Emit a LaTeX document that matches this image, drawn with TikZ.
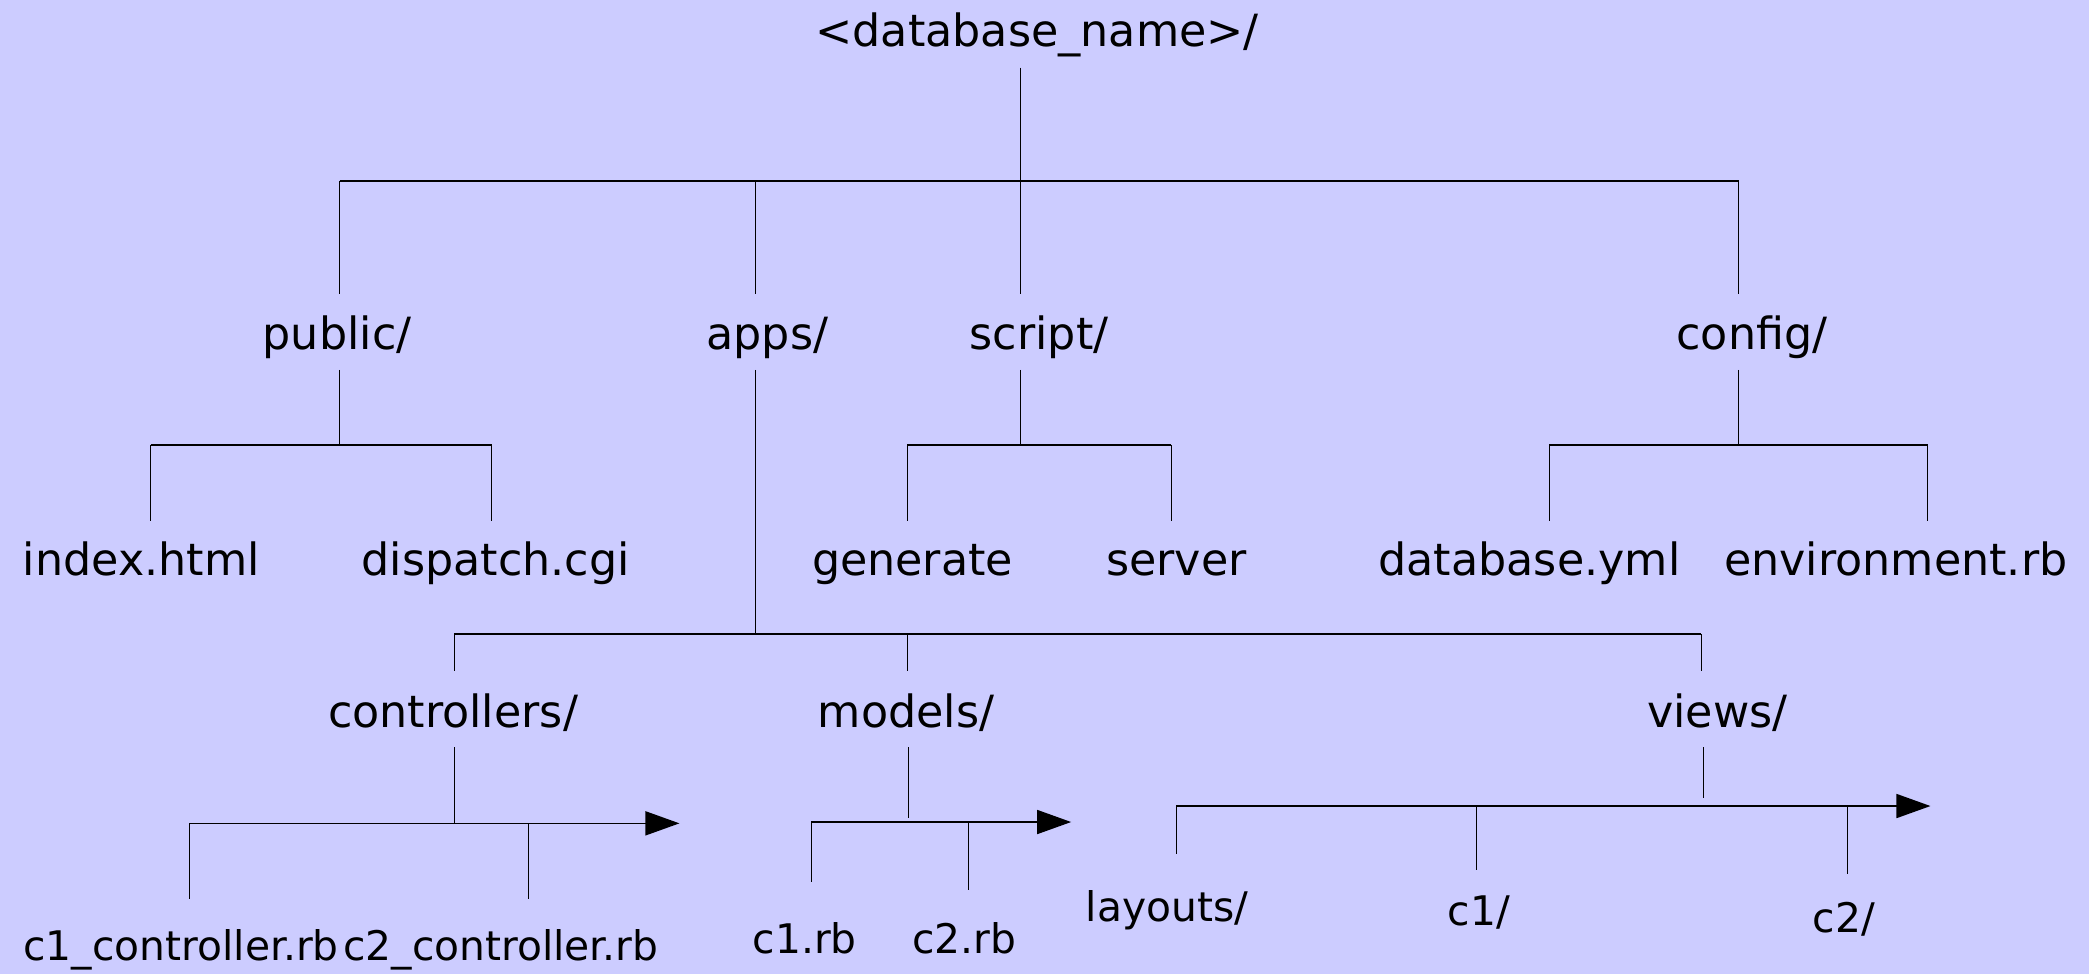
\documentclass[tikz,border=0pt]{standalone}
\usepackage{fontspec}
\setmainfont{DejaVu Sans}
\usetikzlibrary{arrows.meta}
\definecolor{bg}{HTML}{CCCCFF}
\begin{document}
\begin{tikzpicture}[x=0.6662pt,y=-0.6662pt,
  lbl/.style={inner sep=0pt, anchor=base, font=\fontsize{22.2pt}{26pt}\selectfont},
  sml/.style={inner sep=0pt, anchor=base, font=\fontsize{20.4pt}{24pt}\selectfont},
  stem/.style={line width=0.5pt},
  bus/.style={line width=0.8pt},
  arrbus/.style={line width=0.8pt, -{Triangle[length=17pt,width=12pt]}}]
\fill[bg] (0,0) rectangle (1568,731.1);
\useasboundingbox (0,0) rectangle (1568,731.1);

% ---------- labels ----------
\node[lbl] (root) at (778.5,35) {<database\_name>/};
\node[lbl] (public) at (253,262) {public/};
\node[lbl] (apps) at (576,262) {apps/};
\node[lbl] (script) at (780,262) {script/};
\node[lbl] (config) at (1315,262) {config/};
\node[lbl] (index) at (106,432) {index.html};
\node[lbl] (dispatch) at (372,432) {dispatch.cgi};
\node[lbl] (generate) at (685,432) {generate};
\node[lbl] (server) at (883,432) {server};
\node[lbl] (dbyml) at (1148,432) {database.yml};
\node[lbl] (envrb) at (1423,432) {environment.rb};
\node[lbl] (controllers) at (340,546) {controllers/};
\node[lbl] (models) at (680,546) {models/};
\node[lbl] (views) at (1289,546) {views/};
\node[sml] (c1ctl) at (136,721) {c1\_controller.rb};
\node[sml] (c2ctl) at (376,721) {c2\_controller.rb};
\node[sml] (c1rb) at (604,716) {c1.rb};
\node[sml] (c2rb) at (724,716) {c2.rb};
\node[sml] (layouts) at (876,692) {layouts/};
\node[sml] (c1v) at (1110,694.5) {c1/};
\node[sml] (c2v) at (1384,700) {c2/};

% ---------- connector end points ----------
\coordinate (rootS) at (766,50.8);
\coordinate (rootJ) at (766,136);
\coordinate (busL) at (255,136);
\coordinate (busR) at (1305,136);
\coordinate (publicN) at (255,220.7);
\coordinate (appsN) at (567,220.7);
\coordinate (scriptN) at (766,220.7);
\coordinate (configN) at (1305,220.7);

\coordinate (publicS) at (255,277.7);
\coordinate (publicJ) at (255,334);
\coordinate (indexJ) at (113,334);
\coordinate (dispatchJ) at (369,334);
\coordinate (indexN) at (113,390.8);
\coordinate (dispatchN) at (369,390.8);

\coordinate (scriptS) at (766,277.7);
\coordinate (scriptJ) at (766,334);
\coordinate (generateJ) at (681,334);
\coordinate (serverJ) at (879,334);
\coordinate (generateN) at (681,390.8);
\coordinate (serverN) at (879,390.8);

\coordinate (configS) at (1305,277.7);
\coordinate (configJ) at (1305,334);
\coordinate (dbymlJ) at (1163,334);
\coordinate (envrbJ) at (1447,334);
\coordinate (dbymlN) at (1163,390.8);
\coordinate (envrbN) at (1447,390.8);

\coordinate (appsS) at (567,277.7);
\coordinate (appsJ) at (567,476);
\coordinate (controllersJ) at (341,476);
\coordinate (modelsJ) at (681,476);
\coordinate (viewsJ) at (1277,476);
\coordinate (controllersN) at (341,504);
\coordinate (modelsN) at (681,504);
\coordinate (viewsN) at (1277,504);

\coordinate (controllersS) at (341,561);
\coordinate (controllersJ2) at (341,618);
\coordinate (c1ctlJ) at (142,618);
\coordinate (c2ctlJ) at (397,618);
\coordinate (ctlTip) at (510,618);
\coordinate (c1ctlN) at (142,675);
\coordinate (c2ctlN) at (397,675);

\coordinate (modelsS) at (682,561);
\coordinate (modelsE) at (682,614);
\coordinate (c1rbJ) at (609,617);
\coordinate (c2rbJ) at (727,617);
\coordinate (modTip) at (804,617);
\coordinate (c1rbN) at (609,662);
\coordinate (c2rbN) at (727,668);

\coordinate (viewsS) at (1279,561);
\coordinate (viewsE) at (1279,599);
\coordinate (layoutsJ) at (883,605);
\coordinate (c1vJ) at (1108,605);
\coordinate (c2vJ) at (1387,605);
\coordinate (viewTip) at (1449,605);
\coordinate (layoutsN) at (883,641);
\coordinate (c1vN) at (1108,653);
\coordinate (c2vN) at (1387,656);

% ---------- connectors ----------
\draw[stem] (rootS) -- (rootJ);
\draw[bus] (busL) -- (busR);
\draw[stem] (busL) -- (publicN);
\draw[stem] (appsN |- rootJ) -- (appsN);
\draw[stem] (rootJ) -- (scriptN);
\draw[stem] (busR) -- (configN);

\draw[stem] (publicS) -- (publicJ);
\draw[bus] (indexJ) -- (dispatchJ);
\draw[stem] (indexJ) -- (indexN);
\draw[stem] (dispatchJ) -- (dispatchN);

\draw[stem] (scriptS) -- (scriptJ);
\draw[bus] (generateJ) -- (serverJ);
\draw[stem] (generateJ) -- (generateN);
\draw[stem] (serverJ) -- (serverN);

\draw[stem] (configS) -- (configJ);
\draw[bus] (dbymlJ) -- (envrbJ);
\draw[stem] (dbymlJ) -- (dbymlN);
\draw[stem] (envrbJ) -- (envrbN);

\draw[stem] (appsS) -- (appsJ);
\draw[bus] (controllersJ) -- (viewsJ);
\draw[stem] (controllersJ) -- (controllersN);
\draw[stem] (modelsJ) -- (modelsN);
\draw[stem] (viewsJ) -- (viewsN);

\draw[stem] (controllersS) -- (controllersJ2);
\draw[arrbus] (c1ctlJ) -- (ctlTip);
\draw[stem] (c1ctlJ) -- (c1ctlN);
\draw[stem] (c2ctlJ) -- (c2ctlN);

\draw[stem] (modelsS) -- (modelsE);
\draw[arrbus] (c1rbJ) -- (modTip);
\draw[stem] (c1rbJ) -- (c1rbN);
\draw[stem] (c2rbJ) -- (c2rbN);

\draw[stem] (viewsS) -- (viewsE);
\draw[arrbus] (layoutsJ) -- (viewTip);
\draw[stem] (layoutsJ) -- (layoutsN);
\draw[stem] (c1vJ) -- (c1vN);
\draw[stem] (c2vJ) -- (c2vN);
\end{tikzpicture}
\end{document}
